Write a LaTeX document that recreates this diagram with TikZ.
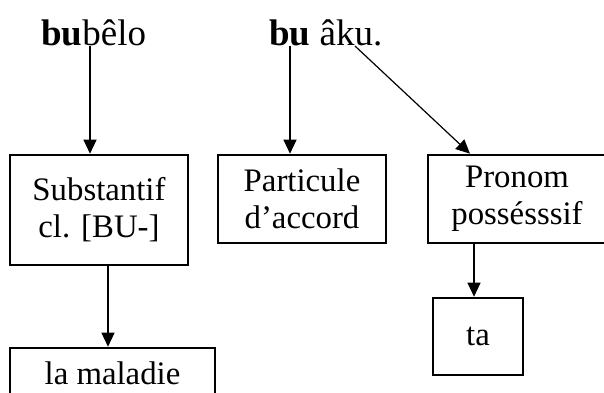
\documentclass[tikz,border=0pt]{standalone}
\usepackage{fontspec}
\setmainfont{Liberation Serif}
\usetikzlibrary{arrows.meta}
\begin{document}
\begin{tikzpicture}[x=1pt,y=-1pt,
  boxnode/.style={draw, line width=2.6pt, inner sep=0pt, align=center,
    font=\fontsize{32.8}{37}\selectfont},
  topword/.style={inner sep=0pt, anchor=base west, font=\fontsize{37}{41}\selectfont},
  arr/.style={line width=1.2pt, -{Triangle[length=14pt,width=13pt]}}]
\useasboundingbox (0,0) rectangle (604,392);
% top words
\node[topword] (w1) at (41,45) {\textbf{bu}bêlo};
\node[topword] (w2) at (269,45) {\textbf{bu} âku.};
\coordinate (s1) at (90,46);
\coordinate (s2) at (290,46);
\coordinate (s3) at (355,46);
% boxes
\node[boxnode, minimum width=178pt, minimum height=110pt] (sub) at (99,210) {Substantif\\cl. [BU-]};
\node[boxnode, minimum width=168pt, minimum height=88pt] (par) at (302,199) {Particule\\d’accord};
\node[boxnode, minimum width=178pt, minimum height=88pt] (pro) at (517,199) {Pronom\\possésssif};
\node[boxnode, minimum width=205pt, minimum height=56pt] (mal) at (112.5,376) {\raisebox{6pt}{la maladie}};
\node[boxnode, minimum width=90pt, minimum height=77pt] (ta) at (478,336.5) {ta};
% connectors
\draw[arr] (s1) -- (s1 |- sub.north);
\draw[arr] (s2) -- (s2 |- par.north);
\draw[arr] (s3) -- ([xshift=-47pt]pro.north);
\draw[arr] ([xshift=9pt]sub.south) -- ([xshift=-4.5pt]mal.north);
\draw[arr] ([xshift=-43pt]pro.south) -- ([xshift=-4pt]ta.north);
\end{tikzpicture}
\end{document}
